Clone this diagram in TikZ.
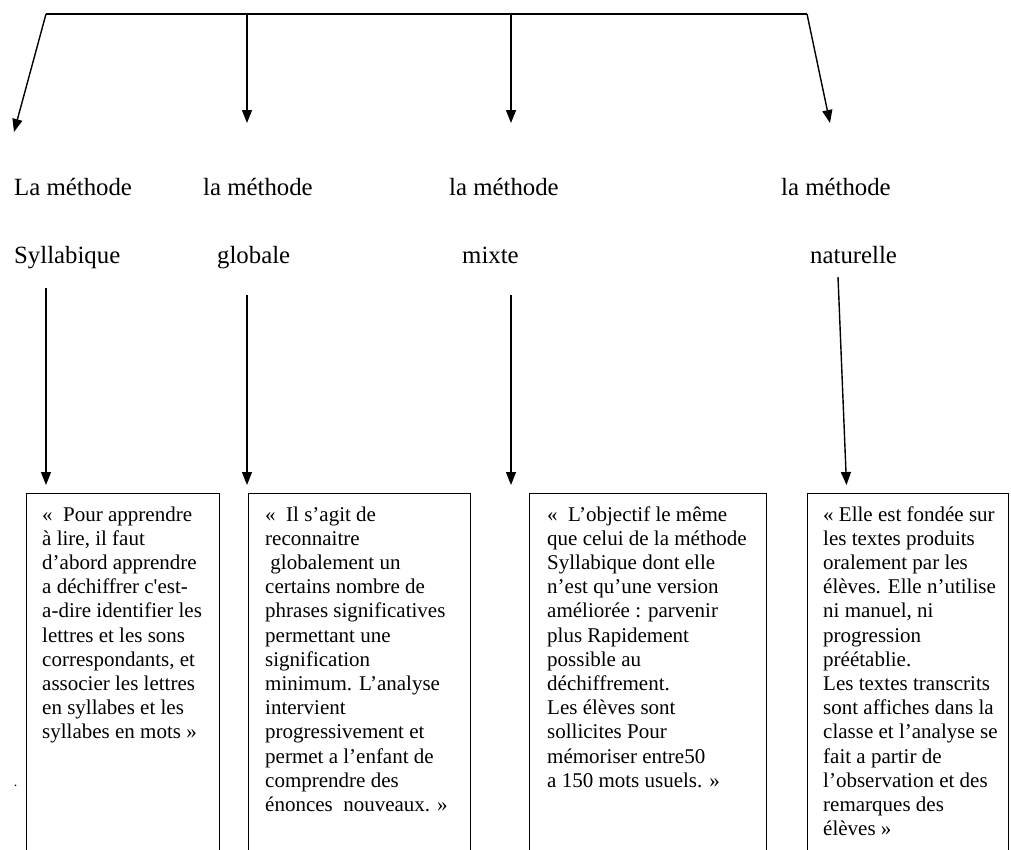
\documentclass[tikz,border=0pt]{standalone}
\usepackage{fontspec}
\setmainfont{Liberation Serif}
\usetikzlibrary{arrows.meta,positioning,calc}

\begin{document}
\begin{tikzpicture}[
			x = 1pt, y = -1pt,
			meth/.style = {anchor=base west, inner sep=0, font=\fontsize{24.8}{29}\selectfont},
			panel/.style = {draw, line width=1.2pt, anchor=north west, minimum height=420, inner sep=0},
			quotetext/.style = {anchor=north west, inner sep=0, align=left, font=\fontsize{21}{24.2}\selectfont},
			arr/.style = {line width=1.4pt, -{Triangle[length=13pt,width=10pt]}}]

			\clip (0,0) rectangle (1011,849);

			% barre du haut
			\coordinate (b1) at (46,14);
			\coordinate (b2) at (247,14);
			\coordinate (b3) at (511,14);
			\coordinate (b4) at (807,14);
			\coordinate (t1) at (14,132);
			\coordinate (t2) at (247,123);
			\coordinate (t3) at (511,123);
			\coordinate (t4) at (830,123);
			\draw[line width=1.4pt] (b1) -- (b4);
			\draw[arr] (b1) -- (t1);
			\draw[arr] (b2) -- (t2);
			\draw[arr] (b3) -- (t3);
			\draw[arr] (b4) -- (t4);

			% les methodes
			\node[meth] (m1) at (14,195) {La méthode};
			\node[meth] (n1) at (14,263) {Syllabique};
			\node[meth] (m2) at (203,195) {la méthode};
			\node[meth] (n2) at (217,263) {globale};
			\node[meth] (m3) at (449,195) {la méthode};
			\node[meth] (n3) at (462,263) {mixte};
			\node[meth] (m4) at (781,195) {la méthode};
			\node[meth] (n4) at (810,263) {naturelle};

			% les cadres
			\node[panel, minimum width=193] (box1) at (26,493) {};
			\node[panel, minimum width=222] (box2) at (248,493) {};
			\node[panel, minimum width=237] (box3) at (529,493) {};
			\node[panel, minimum width=201] (box4) at (807,493) {};

			\coordinate (s1) at (46,288);
			\coordinate (s2) at (247,295);
			\coordinate (s3) at (511,295);
			\coordinate (s4) at (838,277);
			\coordinate (e4) at (846.5,485);
			\draw[arr] (s1) -- ($(s1 |- box1.north)+(0,-8)$);
			\draw[arr] (s2) -- ($(s2 |- box2.north)+(0,-8)$);
			\draw[arr] (s3) -- ($(s3 |- box3.north)+(0,-8)$);
			\draw[arr] (s4) -- (e4);

			\node[quotetext] (q1) at ([xshift=16pt,yshift=-11pt]box1.north west) {\strut«~ Pour apprendre\\à lire, il faut\\d’abord apprendre\\a déchiffrer c\textquotesingle est-\\a-dire identifier les\\lettres et les sons\\correspondants, et\\associer les lettres\\en syllabes et les\\syllabes en mots »};
			\node[quotetext] (q2) at ([xshift=17pt,yshift=-11pt]box2.north west) {\strut«~ Il s’agit de\\reconnaitre\\~globalement un\\certains nombre de\\phrases significatives\\permettant une\\signification\\minimum. L’analyse\\intervient\\progressivement et\\permet a l’enfant de\\comprendre des\\énonces~ nouveaux. »};
			\node[quotetext] (q3) at ([xshift=18pt,yshift=-11pt]box3.north west) {\strut«~ L’objectif le même\\que celui de la méthode\\Syllabique dont elle\\n’est qu’une version\\améliorée : parvenir\\plus Rapidement\\possible au\\déchiffrement.\\Les élèves sont\\sollicites Pour\\mémoriser entre50\\a 150 mots usuels. »};
			\node[quotetext] (q4) at ([xshift=16pt,yshift=-11pt]box4.north west) {\strut« Elle est fondée sur\\les textes produits\\oralement par les\\élèves. Elle n’utilise\\ni manuel, ni\\progression\\préétablie.\\Les textes transcrits\\sont affiches dans la\\classe et l’analyse se\\fait a partir de\\l’observation et des\\remarques des\\élèves »};

			\node[inner sep=0, font=\fontsize{14}{14}\selectfont] (pt) at (15.5,786) {.};

		\end{tikzpicture}
\end{document}
